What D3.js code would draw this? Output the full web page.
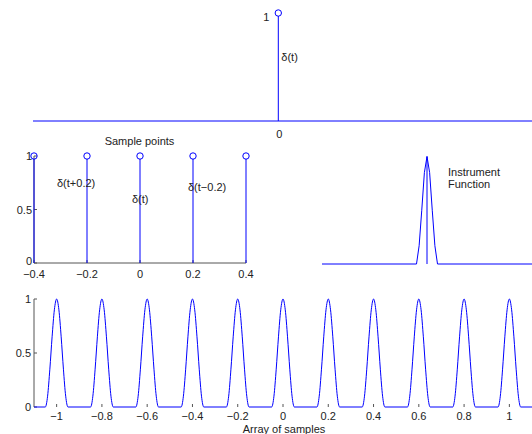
<!DOCTYPE html>
<html><head><meta charset="utf-8">
<script src="https://cdn.jsdelivr.net/npm/d3@7"></script>
<style>
body{margin:0;background:#fff;}
svg text{font-family:"Liberation Sans",Arial,sans-serif;font-size:11px;fill:#222;}
</style></head>
<body>
<svg id="c" width="532" height="434"></svg>
<script>
// ---- data ----
const topStemX = [0];
const topStemY = [1];
const topYTicks = [1];
const topXTicks = [0];

const sampleX = [-0.4, -0.2, 0, 0.2, 0.4];
const sampleY = [1, 1, 1, 1, 1];
const sampleXTicks = [-0.4, -0.2, 0, 0.2, 0.4];
const sampleXTickLabels = ["\u22120.4", "\u22120.2", "0", "0.2", "0.4"];
const sampleYTicks = [0, 0.5, 1];
const sampleYTickLabels = ["0", "0.5", "1"];
const sampleLabels = ["\u03b4(t+0.2)", "\u03b4(t)", "\u03b4(t\u22120.2)"];

const instrOffsets = [-0.05, -0.0375, -0.025, -0.0125, 0, 0.0125, 0.025, 0.0375, 0.05];
const instrValues = [0, 0.17, 0.5, 0.85, 1, 0.85, 0.5, 0.17, 0];

const peakCenters = [-1, -0.8, -0.6, -0.4, -0.2, 0, 0.2, 0.4, 0.6, 0.8, 1];
const peakOffsets = [-0.05, -0.04, -0.03, -0.02, -0.01, 0, 0.01, 0.02, 0.03, 0.04, 0.05];
const peakValues = [0, 0.1, 0.35, 0.65, 0.9, 1, 0.9, 0.65, 0.35, 0.1, 0];
const bottomXTicks = [-1, -0.8, -0.6, -0.4, -0.2, 0, 0.2, 0.4, 0.6, 0.8, 1];
const bottomXTickLabels = ["\u22121", "\u22120.8", "\u22120.6", "\u22120.4", "\u22120.2", "0", "0.2", "0.4", "0.6", "0.8", "1"];
const bottomYTicks = [0, 0.5, 1];
const bottomYTickLabels = ["0", "0.5", "1"];

// ---- drawing ----
const svg = d3.select("#c");
const BLUE = "#0000ff", AX = "#555";

// Top panel
const tx = d3.scaleLinear().domain([-1, 1]).range([33, 523.6]);
const ty = d3.scaleLinear().domain([0, 1]).range([121, 13]);
const topG = svg.append("g");
topG.append("line").attr("x1", tx(-1)).attr("x2", 532).attr("y1", ty(0)).attr("y2", ty(0))
  .attr("stroke", BLUE).attr("stroke-width", 1);
topG.selectAll(".stem").data(topStemX).join("line")
  .attr("x1", d => tx(d)).attr("x2", d => tx(d))
  .attr("y1", ty(0)).attr("y2", (d, i) => ty(topStemY[i]) + 3)
  .attr("stroke", BLUE);
topG.selectAll(".mk").data(topStemX).join("circle")
  .attr("cx", d => tx(d)).attr("cy", (d, i) => ty(topStemY[i])).attr("r", 3.2)
  .attr("fill", "none").attr("stroke", BLUE);
topG.selectAll(".yl").data(topYTicks).join("text")
  .attr("x", tx(0) - 9).attr("y", d => ty(d) + 8).attr("text-anchor", "end").text(d => d);
topG.selectAll(".xl").data(topXTicks).join("text")
  .attr("x", d => tx(d) + 1).attr("y", ty(0) + 17).attr("text-anchor", "middle").text(d => d);
topG.append("text").attr("x", tx(0) + 3).attr("y", 61).text("\u03b4(t)");

// Middle-left panel
const mx = d3.scaleLinear().domain([-0.4, 0.4]).range([34, 246]);
const my = d3.scaleLinear().domain([0, 1]).range([263, 156]);
const mid = svg.append("g");
mid.append("line").attr("x1", mx(-0.4)).attr("x2", mx(0.4)).attr("y1", my(0)).attr("y2", my(0)).attr("stroke", AX);
mid.append("line").attr("x1", mx(-0.4)).attr("x2", mx(-0.4)).attr("y1", my(0)).attr("y2", my(1)).attr("stroke", AX);
mid.selectAll(".xt").data(sampleXTicks).join("line")
  .attr("x1", d => mx(d)).attr("x2", d => mx(d)).attr("y1", my(0)).attr("y2", my(0) - 3).attr("stroke", AX);
mid.selectAll(".yt").data(sampleYTicks).join("line")
  .attr("x1", mx(-0.4)).attr("x2", mx(-0.4) + 3).attr("y1", d => my(d)).attr("y2", d => my(d)).attr("stroke", AX);
mid.selectAll(".xl").data(sampleXTicks).join("text")
  .attr("x", d => mx(d)).attr("y", my(0) + 14.5).attr("text-anchor", "middle").text((d, i) => sampleXTickLabels[i]);
mid.selectAll(".yl").data(sampleYTicks).join("text")
  .attr("x", mx(-0.4) - 2).attr("y", d => my(d) + (d === 0 ? 2 : 4)).attr("text-anchor", "end").text((d, i) => sampleYTickLabels[i]);
mid.selectAll(".stem").data(sampleX).join("line")
  .attr("x1", d => mx(d)).attr("x2", d => mx(d)).attr("y1", my(0)).attr("y2", (d, i) => my(sampleY[i]) + 3)
  .attr("stroke", BLUE);
mid.selectAll(".mk").data(sampleX).join("circle")
  .attr("cx", d => mx(d)).attr("cy", (d, i) => my(sampleY[i])).attr("r", 3.2)
  .attr("fill", "none").attr("stroke", BLUE);
mid.append("text").attr("x", 139.5).attr("y", 145).attr("text-anchor", "middle").text("Sample points");
mid.append("text").attr("x", 57).attr("y", 187).text(sampleLabels[0]);
mid.append("text").attr("x", 132).attr("y", 203).text(sampleLabels[1]);
mid.append("text").attr("x", 188).attr("y", 191).text(sampleLabels[2]);

// Middle-right panel (instrument function)
const rx = d3.scaleLinear().domain([-0.5, 0.5]).range([322, 532]);
const ry = d3.scaleLinear().domain([0, 1]).range([264, 156.5]);
const rp = svg.append("g");
const instrPts = [[-0.5, 0]].concat(instrOffsets.map((o, i) => [o, instrValues[i]])).concat([[0.5, 0]]);
rp.append("path").datum(instrPts)
  .attr("d", d3.line().x(d => rx(d[0])).y(d => ry(d[1])))
  .attr("fill", "none").attr("stroke", BLUE);
rp.append("line").attr("x1", rx(0)).attr("x2", rx(0)).attr("y1", ry(0)).attr("y2", ry(1)).attr("stroke", BLUE);
rp.append("text").attr("x", 448).attr("y", 176).text("Instrument");
rp.append("text").attr("x", 448).attr("y", 188).text("Function");

// Bottom panel
const bx = d3.scaleLinear().domain([-1.1, 1.1]).range([34, 532]);
const by = d3.scaleLinear().domain([0, 1]).range([407, 299]);
const bot = svg.append("g");
bot.append("line").attr("x1", bx(-1.1)).attr("x2", bx(-1.1)).attr("y1", by(0)).attr("y2", by(1)).attr("stroke", AX);
bot.selectAll(".yt").data(bottomYTicks).join("line")
  .attr("x1", bx(-1.1)).attr("x2", bx(-1.1) + 3).attr("y1", d => by(d)).attr("y2", d => by(d)).attr("stroke", AX);
bot.selectAll(".xt").data(bottomXTicks).join("line")
  .attr("x1", d => bx(d)).attr("x2", d => bx(d)).attr("y1", by(0)).attr("y2", by(0) - 3).attr("stroke", AX);
let pts = [[-1.1, 0]];
peakCenters.forEach(c => peakOffsets.forEach((o, i) => pts.push([c + o, peakValues[i]])));
pts.push([1.1, 0]);
bot.append("path").datum(pts)
  .attr("d", d3.line().x(d => bx(d[0])).y(d => by(d[1])).curve(d3.curveMonotoneX))
  .attr("fill", "none").attr("stroke", BLUE);
bot.selectAll(".xl").data(bottomXTicks).join("text")
  .attr("x", d => bx(d)).attr("y", by(0) + 13).attr("text-anchor", "middle").text((d, i) => bottomXTickLabels[i]);
bot.selectAll(".yl").data(bottomYTicks).join("text")
  .attr("x", bx(-1.1) - 3).attr("y", d => by(d) + 4).attr("text-anchor", "end").text((d, i) => bottomYTickLabels[i]);
bot.append("text").attr("x", 284).attr("y", 433).attr("text-anchor", "middle").text("Array of samples");
</script>
</body></html>
